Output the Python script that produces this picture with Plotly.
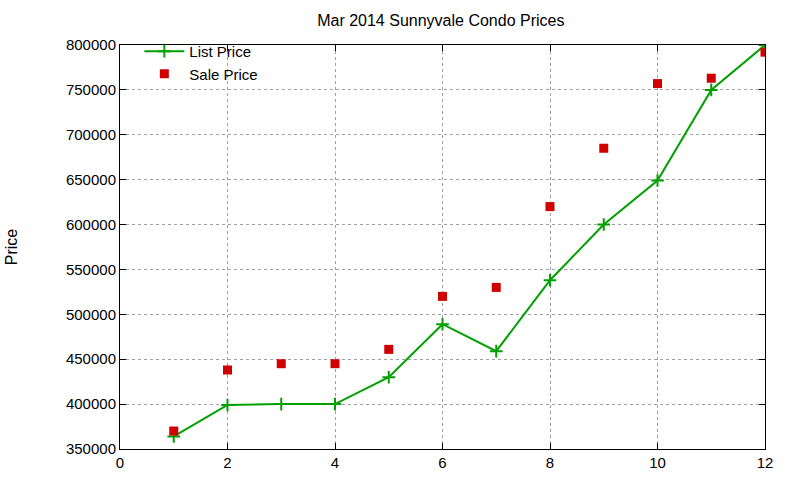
import plotly.graph_objects as go

months = [1, 2, 3, 4, 5, 6, 7, 8, 9, 10, 11, 12]
list_price = [364000, 399000, 400000, 400000, 430000, 489000, 459000, 538000, 600000, 649000, 750000, 800000]
sale_price = [370000, 438000, 445000, 445000, 461000, 520000, 530000, 620000, 685000, 757000, 763000, 792000]

FONT = "Liberation Sans, Arial"

fig = go.Figure()
fig.add_trace(go.Scatter(x=months, y=list_price, mode="lines+markers", name="List Price",
                         line=dict(color="#00a000", width=2),
                         marker=dict(symbol="cross-thin", size=9, line=dict(color="#00a000", width=2))))
fig.add_trace(go.Scatter(x=months, y=sale_price, mode="markers", name="Sale Price",
                         marker=dict(symbol="square", size=9, color="#d00000")))

axis_common = dict(showline=True, linecolor="black", linewidth=1, mirror="ticks",
                   ticks="inside", ticklen=6, tickcolor="black",
                   showgrid=True, gridcolor="#a0a0a0", griddash="dot", gridwidth=1,
                   zeroline=False, automargin=False,
                   tickfont=dict(family=FONT, size=15, color="black"))

fig.update_layout(
    width=800, height=480,
    margin=dict(l=120, r=35, t=45, b=31),
    paper_bgcolor="white", plot_bgcolor="white",
    title=dict(text="Mar 2014 Sunnyvale Condo Prices", x=0.551, xanchor="center", y=0.958, yanchor="middle",
               font=dict(family=FONT, size=16, color="black")),
    xaxis=dict(range=[0, 12], dtick=2, tick0=0, **axis_common),
    yaxis=dict(range=[350000, 800000], dtick=50000, tick0=350000, tickformat="d",
               title=dict(text="Price", standoff=44, font=dict(family=FONT, size=16, color="black")),
               **axis_common),
    legend=dict(x=0.03, y=1.025, xanchor="left", yanchor="top", bgcolor="rgba(0,0,0,0)",
                font=dict(family=FONT, size=15, color="black"),
                tracegroupgap=0, itemwidth=40),
    showlegend=True,
)

fig.write_html("out.html")
